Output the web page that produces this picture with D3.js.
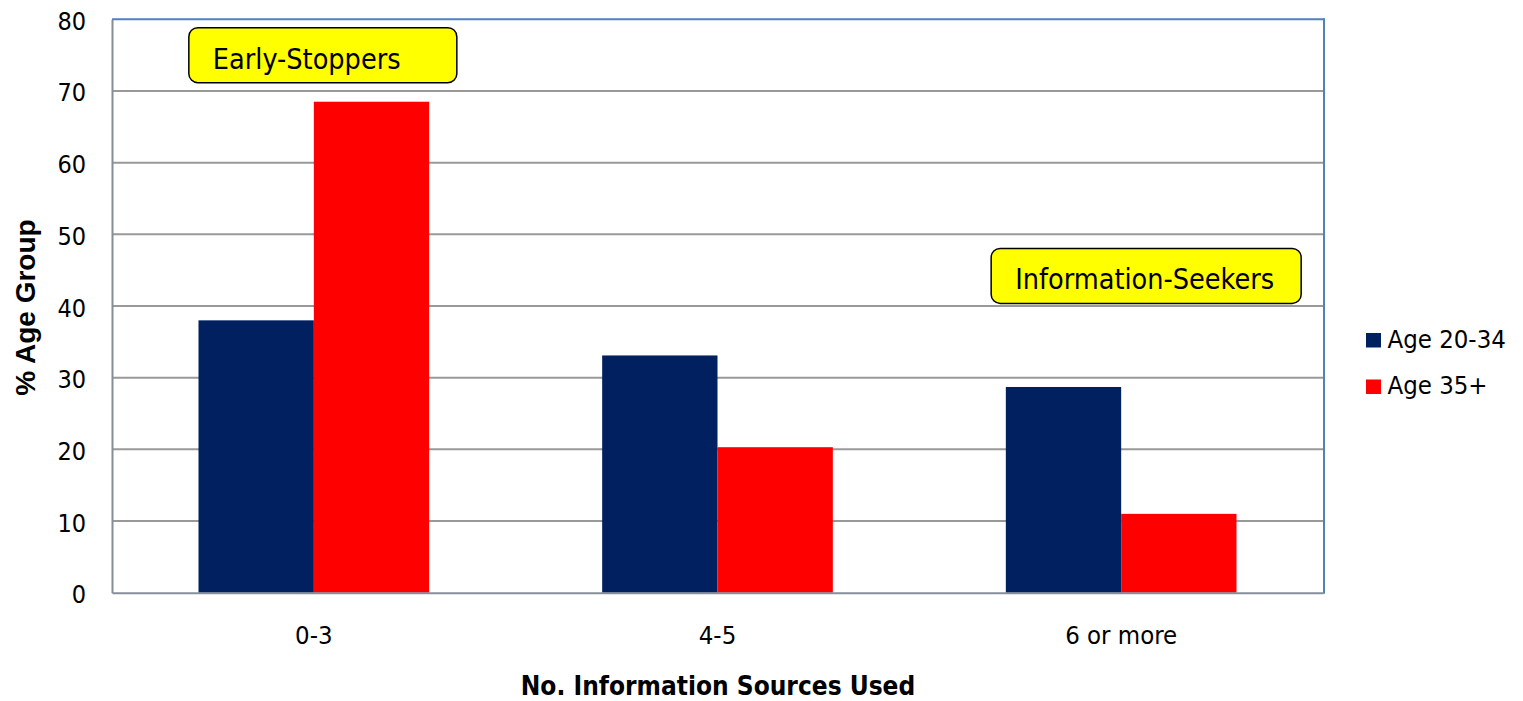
<!DOCTYPE html>
<html>
<head>
<meta charset="utf-8">
<script src="https://cdn.jsdelivr.net/npm/d3@7"></script>
<style>
  html, body { margin: 0; padding: 0; background: #fff; }
  svg { display: block; }
  .tah { font-family: Tahoma, "DejaVu Sans Condensed", "DejaVu Sans", sans-serif; }
</style>
</head>
<body>
<svg id="chart" width="1523" height="701"></svg>
<script>
// Share of each age group by number of information sources used
const categories = ["0-3", "4-5", "6 or more"];
const seriesNames = ["Age 20-34", "Age 35+"];
const age20to34 = [38.0, 33.1, 28.7];
const age35plus = [68.5, 20.3, 11.0];
const seriesColors = ["#002060", "#FF0000"];
const yTicks = [0, 10, 20, 30, 40, 50, 60, 70, 80];
const callouts = [
  { text: "Early-Stoppers", category: "0-3", value: 75.0, w: 268, dx: 9 },
  { text: "Information-Seekers", category: "6 or more", value: 44.2, w: 310, dx: 25 }
];

const svg = d3.select("#chart");
const plot = { left: 112, right: 1323, top: 19.3, bottom: 592.7 };

const x0 = d3.scaleBand().domain(categories).range([plot.left, plot.right]).padding(0);
const x1 = d3.scaleBand().domain(seriesNames).range([0, x0.bandwidth()])
  .paddingInner(0).paddingOuter(0.75);
const y = d3.scaleLinear().domain([0, 80]).range([plot.bottom, plot.top]);

// horizontal gridlines
svg.append("g")
  .selectAll("line")
  .data(yTicks.slice(1, -1))
  .join("line")
  .attr("x1", plot.left).attr("x2", plot.right)
  .attr("y1", d => y(d)).attr("y2", d => y(d))
  .attr("stroke", "#999999").attr("stroke-width", 2);

// bars
const rows = categories.map((c, i) => ({ category: c, values: [age20to34[i], age35plus[i]] }));
svg.append("g")
  .selectAll("g")
  .data(rows)
  .join("g")
  .attr("transform", d => `translate(${x0(d.category)},0)`)
  .selectAll("rect")
  .data(d => d.values.map((v, j) => ({ key: seriesNames[j], value: v, color: seriesColors[j] })))
  .join("rect")
  .attr("x", d => x1(d.key))
  .attr("width", x1.bandwidth())
  .attr("y", d => y(d.value))
  .attr("height", d => y(0) - y(d.value))
  .attr("fill", d => d.color);

// plot frame
svg.append("line").attr("x1", plot.left).attr("x2", plot.right + 1)
  .attr("y1", plot.top).attr("y2", plot.top)
  .attr("stroke", "#4F81BD").attr("stroke-width", 2);
svg.append("line").attr("x1", plot.right + 1).attr("x2", plot.right + 1)
  .attr("y1", plot.top - 1).attr("y2", plot.bottom + 1)
  .attr("stroke", "#4F81BD").attr("stroke-width", 2);

// y axis
const yAxis = svg.append("g")
  .attr("transform", `translate(${plot.left},0)`)
  .call(d3.axisLeft(y).tickValues(yTicks).tickSize(0).tickPadding(26));
yAxis.select(".domain").attr("stroke", "#868E9A").attr("stroke-width", 2);
yAxis.selectAll("text")
  .attr("class", "tah")
  .attr("font-size", 25)
  .attr("fill", "#000")
  .attr("dy", "0.4em");

// x axis
const xAxis = svg.append("g")
  .attr("transform", `translate(0,${plot.bottom})`)
  .call(d3.axisBottom(x0).tickSize(0).tickPadding(33));
xAxis.select(".domain").attr("stroke", "#868E9A").attr("stroke-width", 2);
xAxis.selectAll("text")
  .attr("class", "tah")
  .attr("font-size", 25.5)
  .attr("fill", "#000");

// axis titles
svg.append("text")
  .attr("class", "tah")
  .attr("x", (plot.left + plot.right) / 2 + 0.5)
  .attr("y", 695)
  .attr("text-anchor", "middle")
  .attr("font-size", 26).attr("font-weight", "bold")
  .text("No. Information Sources Used");

svg.append("text")
  .attr("transform", `translate(35,${(plot.top + plot.bottom) / 2 + 1.5}) rotate(-90)`)
  .attr("text-anchor", "middle")
  .attr("font-family", "Arial, 'Liberation Sans', sans-serif")
  .attr("font-size", 28).attr("font-weight", "bold")
  .text("% Age Group");

// callout boxes
const boxH = 55;
const cg = svg.append("g")
  .selectAll("g")
  .data(callouts)
  .join("g")
  .attr("transform", d => {
    const cx = x0(d.category) + x0.bandwidth() / 2 + d.dx;
    return `translate(${cx - d.w / 2},${y(d.value) - boxH / 2})`;
  });
cg.append("rect")
  .attr("width", d => d.w).attr("height", boxH)
  .attr("rx", 9).attr("ry", 9)
  .attr("fill", "#FFFF00").attr("stroke", "#000").attr("stroke-width", 1.5);
cg.append("text")
  .attr("class", "tah")
  .attr("x", 24).attr("y", 41)
  .attr("font-size", 28.5)
  .text(d => d.text);

// legend
const legend = svg.append("g")
  .selectAll("g")
  .data(seriesNames)
  .join("g")
  .attr("transform", (d, i) => `translate(1366,${333 + i * 46.5})`);
legend.append("rect")
  .attr("width", 15).attr("height", 14.5)
  .attr("fill", (d, i) => seriesColors[i]);
legend.append("text")
  .attr("class", "tah")
  .attr("x", 21.5).attr("y", 14.5)
  .attr("font-size", 25.5)
  .text(d => d);
</script>
</body>
</html>
